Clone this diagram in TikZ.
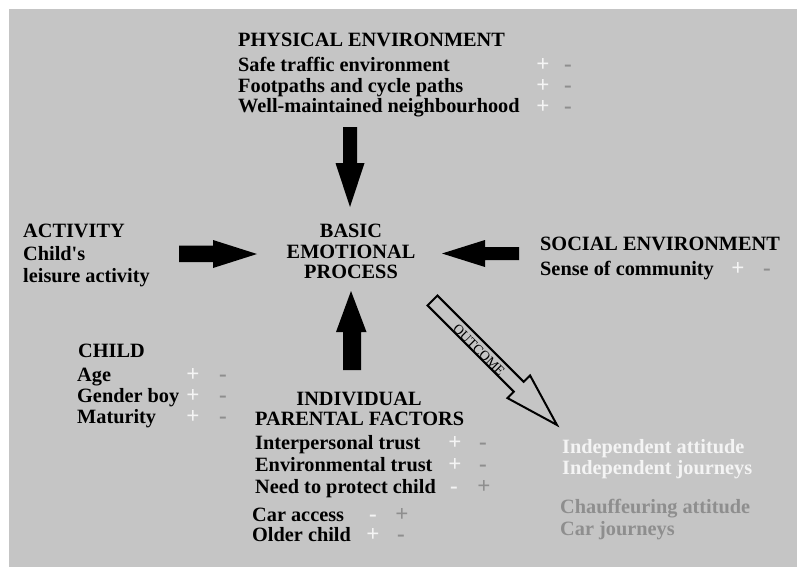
\documentclass[tikz,border=0pt]{standalone}
\usepackage{fontspec}
\setmainfont{Liberation Serif}
\definecolor{bg}{HTML}{C5C5C5}
\definecolor{sgray}{HTML}{8E8E8E}
\definecolor{lgray}{HTML}{F4F4F4}
\tikzset{
  txt/.style={anchor=base west, inner sep=0pt, font=\fontsize{20.3}{22}\selectfont\bfseries},
  ctxt/.style={anchor=base, inner sep=0pt, font=\fontsize{20.3}{22}\selectfont\bfseries},
  pl/.style={anchor=base, inner sep=0pt, text=lgray, font=\fontsize{23}{24}\selectfont\bfseries},
  mi/.style={anchor=base, inner sep=0pt, text=sgray, font=\fontsize{23}{24}\selectfont\bfseries},
  blockarrow/.style={fill=black, draw=none},
  hollowarrow/.style={draw=black, line width=2pt, line join=miter, fill=none}
}
\begin{document}
\begin{tikzpicture}[x=1pt, y=-1pt]
\useasboundingbox (0,0) rectangle (797,567);
\fill[bg] (9,9) rectangle (797,567);

% Physical environment
\node[txt] (pe) at (238,47) {PHYSICAL ENVIRONMENT};
\node[txt] (pe1) at (238,71.5) {Safe traffic environment};
\node[txt] (pe2) at (238,92.5) {Footpaths and cycle paths};
\node[txt] (pe3) at (238,113) {Well-maintained neighbourhood};
\node[pl] (pe1p) at (543,72) {+};
\node[mi] (pe1m) at (568,72) {-};
\node[pl] (pe2p) at (543,93) {+};
\node[mi] (pe2m) at (568,93) {-};
\node[pl] (pe3p) at (543,113.5) {+};
\node[mi] (pe3m) at (568,113.5) {-};

% Basic emotional process
\node[ctxt] (b1) at (351,237) {BASIC};
\node[ctxt] (b2) at (351,258) {EMOTIONAL};
\node[ctxt] (b3) at (351,278) {PROCESS};

% Activity
\node[txt] (ac) at (23,237) {ACTIVITY};
\node[txt] (ac1) at (23,260) {Child\textquotesingle s};
\node[txt] (ac2) at (23,282) {leisure activity};

% Social environment
\node[txt] (se) at (540,250) {SOCIAL ENVIRONMENT};
\node[txt] (se1) at (540,275) {Sense of community};
\node[pl] (se1p) at (738,275.5) {+};
\node[mi] (se1m) at (767,275.5) {-};

% Child
\node[txt] (ch) at (78,357) {CHILD};
\node[txt] (ch1) at (77,381) {Age};
\node[txt] (ch2) at (77,402) {Gender boy};
\node[txt] (ch3) at (77,423) {Maturity};
\node[pl] (ch1p) at (193,381.5) {+};
\node[mi] (ch1m) at (223,381.5) {-};
\node[pl] (ch2p) at (193,402.5) {+};
\node[mi] (ch2m) at (223,402.5) {-};
\node[pl] (ch3p) at (193,423.5) {+};
\node[mi] (ch3m) at (223,423.5) {-};

% Individual parental factors
\node[ctxt] (ip) at (359,405) {INDIVIDUAL};
\node[txt] (ip0) at (255,425) {PARENTAL FACTORS};
\node[txt] (ip1) at (255,449) {Interpersonal trust};
\node[txt] (ip2) at (255,471) {Environmental trust};
\node[txt] (ip3) at (255,493) {Need to protect child};
\node[txt] (ip4) at (252,521) {Car access};
\node[txt] (ip5) at (252,541) {Older child};
\node[pl] (ip1p) at (455,449.5) {+};
\node[mi] (ip1m) at (483,449.5) {-};
\node[pl] (ip2p) at (455,471.5) {+};
\node[mi] (ip2m) at (483,471.5) {-};
\node[pl] (ip3m) at (454,493.5) {-};
\node[mi] (ip3p) at (484,493.5) {+};
\node[pl] (ip4m) at (373,521.5) {-};
\node[mi] (ip4p) at (402,521.5) {+};
\node[pl] (ip5p) at (373,541.5) {+};
\node[mi] (ip5m) at (401,541.5) {-};

% Outcomes
\node[txt, text=lgray] (o1) at (562,453) {Independent attitude};
\node[txt, text=lgray] (o2) at (562,474) {Independent journeys};
\node[txt, text=sgray] (o3) at (560,513) {Chauffeuring attitude};
\node[txt, text=sgray] (o4) at (560,535) {Car journeys};

% Block arrows
\fill[blockarrow] (343,127) -- (357,127) -- (357,163) -- (364.5,163) -- (350,207) -- (335.5,163) -- (343,163) -- cycle;
\fill[blockarrow] (343,370) -- (361,370) -- (361,332) -- (366.5,332) -- (351,291) -- (336,332) -- (343,332) -- cycle;
\fill[blockarrow] (179,245.5) -- (213,245.5) -- (213,240) -- (257,254) -- (213,268) -- (213,262) -- (179,262) -- cycle;
\fill[blockarrow] (519,247) -- (485,247) -- (485,240) -- (442,253.5) -- (485,267) -- (485,260) -- (519,260) -- cycle;

% Outcome hollow arrow
\draw[hollowarrow] (437.45,295.55) -- (523.7,381.8) -- (530.1,375.5) -- (556.95,424.95) -- (507.5,398.1) -- (513.8,391.7) -- (427.55,305.45) -- cycle;
\node[inner sep=0pt, rotate=-45, font=\fontsize{13.5}{15}\selectfont] (oc) at (479,350) {OUTCOME};
\end{tikzpicture}
\end{document}
